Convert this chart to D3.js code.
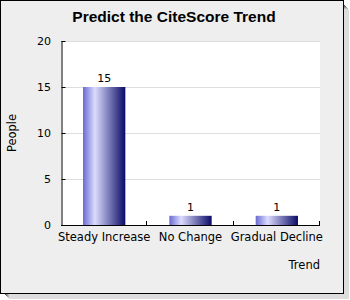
<!DOCTYPE html>
<html>
<head>
<meta charset="utf-8">
<script src="https://cdn.jsdelivr.net/npm/d3@7"></script>
<style>
  body { margin: 0; background: #fff; }
  text { font-family: "DejaVu Sans", sans-serif; }
  text.title { font-family: "Liberation Sans", Arial, sans-serif; }
</style>
</head>
<body>
<div id="chart"></div>
<script>
// CiteScore trend poll

const categories = ["Steady Increase", "No Change", "Gradual Decline"];
const people = [15, 1, 1];
const yTicks = [0, 5, 10, 15, 20];

const width = 350;
const height = 300;
const margin = {top: 41, right: 30, bottom: 75, left: 61};

const svg = d3.select("#chart")
    .append("svg")
    .attr("width", width)
    .attr("height", height);

// drop shadow + frame
const shadeGreys = ["#555", "#777", "#999", "#bbb", "#ddd"];
shadeGreys.forEach((c, i) => {
    svg.append("rect")
        .attr("x", 5 + i).attr("y", 5 + i)
        .attr("width", 340).attr("height", 290)
        .attr("fill", c);
});
svg.append("rect")
    .attr("x", 0.5).attr("y", 0.5)
    .attr("width", 343).attr("height", 293)
    .attr("fill", "#eeeeee")
    .attr("stroke", "#000");

const x = d3.scaleBand()
    .domain(categories)
    .range([margin.left, width - margin.right])
    .paddingInner(0.51)
    .paddingOuter(0.255);

const y = d3.scaleLinear()
    .domain([0, 20])
    .range([height - margin.bottom, margin.top]);

const defs = svg.append("defs");
const grad = defs.append("linearGradient")
    .attr("id", "barGrad")
    .attr("x1", "0%").attr("x2", "100%")
    .attr("y1", "0%").attr("y2", "0%");
grad.append("stop").attr("offset", "0%").attr("stop-color", "#6a6ad2");
grad.append("stop").attr("offset", "28%").attr("stop-color", "#dcdcff");
grad.append("stop").attr("offset", "100%").attr("stop-color", "#0a0a66");

// plot background
svg.append("rect")
    .attr("x", margin.left).attr("y", margin.top)
    .attr("width", width - margin.right - margin.left)
    .attr("height", y(0) - margin.top)
    .attr("fill", "#fff");

// grid
svg.append("g")
    .selectAll("line")
    .data(yTicks.slice(1))
    .join("line")
    .attr("x1", margin.left).attr("x2", width - margin.right)
    .attr("y1", d => Math.round(y(d)) + 0.5)
    .attr("y2", d => Math.round(y(d)) + 0.5)
    .attr("stroke", "#dddddd");

// bars
svg.append("g")
    .selectAll("rect")
    .data(people)
    .join("rect")
    .attr("x", (d, i) => x(categories[i]))
    .attr("y", d => y(d))
    .attr("width", x.bandwidth())
    .attr("height", d => y(0) - y(d))
    .attr("fill", "url(#barGrad)");

// value labels
svg.append("g")
    .selectAll("text")
    .data(people)
    .join("text")
    .attr("x", (d, i) => x(categories[i]) + x.bandwidth() / 2)
    .attr("y", d => y(d) - 5)
    .attr("text-anchor", "middle")
    .attr("font-size", 11)
    .text(d => d);

// y axis
const yAxis = svg.append("g")
    .attr("transform", `translate(${margin.left + 0.5},0)`)
    .call(d3.axisRight(y).tickValues(yTicks).tickSize(4).tickFormat(""));
yAxis.select(".domain").attr("d", `M0.5,${margin.top}V${y(0)}`);
svg.append("g")
    .selectAll("text")
    .data(yTicks)
    .join("text")
    .attr("x", margin.left - 10)
    .attr("y", d => y(d) + 4)
    .attr("text-anchor", "end")
    .attr("font-size", 11)
    .text(d => d);

// x axis
const xBounds = [1, 2, 3].map(i => margin.left + i * (width - margin.right - margin.left) / 3);
svg.append("line")
    .attr("x1", margin.left).attr("x2", width - margin.right)
    .attr("y1", y(0) + 0.5).attr("y2", y(0) + 0.5)
    .attr("stroke", "#000");
svg.append("g")
    .selectAll("line")
    .data(xBounds)
    .join("line")
    .attr("x1", d => Math.round(d) - 0.5).attr("x2", d => Math.round(d) - 0.5)
    .attr("y1", y(0) - 4).attr("y2", y(0))
    .attr("stroke", "#000");
svg.append("g")
    .selectAll("text")
    .data(categories)
    .join("text")
    .attr("x", d => x(d) + x.bandwidth() / 2)
    .attr("y", y(0) + 16)
    .attr("text-anchor", "middle")
    .attr("font-size", 11.5)
    .text(d => d);

// titles
svg.append("text")
    .attr("class", "title")
    .attr("x", 174).attr("y", 22)
    .attr("text-anchor", "middle")
    .attr("font-weight", "bold")
    .attr("font-size", 15.5)
    .text("Predict the CiteScore Trend");

svg.append("text")
    .attr("transform", `translate(16,${(margin.top + y(0)) / 2}) rotate(-90)`)
    .attr("text-anchor", "middle")
    .attr("font-size", 11.5)
    .text("People");

svg.append("text")
    .attr("x", width - margin.right)
    .attr("y", 269)
    .attr("text-anchor", "end")
    .attr("font-size", 11.5)
    .text("Trend");
</script>
</body>
</html>
